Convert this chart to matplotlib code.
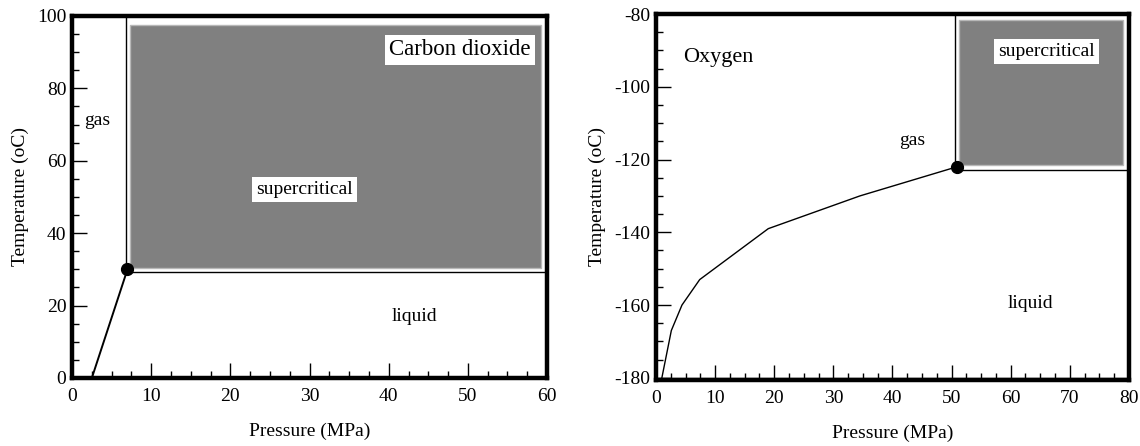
import numpy as np
import matplotlib
matplotlib.use('Agg')
import matplotlib.pyplot as plt
from matplotlib.patches import Rectangle
from matplotlib.ticker import MultipleLocator

plt.rcParams['font.family'] = ['Liberation Serif', 'DejaVu Serif']
plt.rcParams['axes.unicode_minus'] = False

# carbon dioxide panel
co2_line_p = [2.5, 7.0]
co2_line_t = [0, 30]
co2_crit = (7.0, 30)
co2_super_p = (7.3, 59.2)
co2_super_t = (30.4, 97.5)
co2_vert_p = 6.8
co2_horiz_t = 29.3

# oxygen panel
o2_curve_p = [1.0, 2.6, 4.4, 7.4, 19.0, 34.5, 50.9]
o2_curve_t = [-180, -167, -160, -153, -139, -130, -122]
o2_crit = (50.9, -122)
o2_super_p = (51.3, 79.0)
o2_super_t = (-121.5, -81.6)
o2_vert_p = 50.6
o2_horiz_t = -122.9

fig = plt.figure(figsize=(11.4, 4.46), dpi=100)
ax1 = fig.add_axes([0.0632, 0.1525, 0.4167, 0.8117])
ax2 = fig.add_axes([0.5754, 0.148, 0.4149, 0.8206])

gray = '#808080'
bbox = dict(facecolor='white', edgecolor='none', pad=3)


def style(ax, xmaj, xmin, ymaj, ymin):
    for s in ax.spines.values():
        s.set_linewidth(3.2)
    ax.xaxis.set_major_locator(MultipleLocator(xmaj))
    ax.xaxis.set_minor_locator(MultipleLocator(xmin))
    ax.yaxis.set_major_locator(MultipleLocator(ymaj))
    ax.yaxis.set_minor_locator(MultipleLocator(ymin))
    ax.tick_params(which='both', direction='in', top=False, right=False, width=1)
    ax.tick_params(which='major', length=11, labelsize=14)
    ax.tick_params(which='minor', length=5)
    ax.tick_params(axis='x', which='major', pad=7)
    ax.tick_params(axis='y', which='major', pad=4)
    ax.set_xlabel('Pressure (MPa)', fontsize=14, labelpad=13)
    ax.set_ylabel('Temperature (oC)', fontsize=14, labelpad=6)


# --- CO2 ---
ax1.set_xlim(0, 60)
ax1.set_ylim(0, 100)
ax1.add_patch(Rectangle((co2_super_p[0], co2_super_t[0]),
                        co2_super_p[1] - co2_super_p[0],
                        co2_super_t[1] - co2_super_t[0],
                        facecolor=gray, edgecolor='#b8b8b8', lw=1))
ax1.plot([co2_vert_p, co2_vert_p], [co2_crit[1], 100], color='black', lw=1)
ax1.plot([co2_crit[0], 60], [co2_horiz_t, co2_horiz_t], color='black', lw=1)
ax1.plot(co2_line_p, co2_line_t, color='black', lw=1.4)
ax1.plot(*co2_crit, 'o', color='black', ms=8.5)
ax1.text(1.5, 71, 'gas', fontsize=14, va='center')
ax1.text(29.4, 52, 'supercritical', fontsize=14, ha='center', va='center', bbox=bbox)
ax1.text(43.2, 17, 'liquid', fontsize=14, ha='center', va='center')
ax1.text(49.0, 90.6, 'Carbon dioxide', fontsize=16.5, ha='center', va='center', bbox=bbox)
style(ax1, 10, 2.5, 20, 5)

# --- O2 ---
ax2.set_xlim(0, 80)
ax2.set_ylim(-180.6, -80)
ax2.add_patch(Rectangle((o2_super_p[0], o2_super_t[0]),
                        o2_super_p[1] - o2_super_p[0],
                        o2_super_t[1] - o2_super_t[0],
                        facecolor=gray, edgecolor='#b8b8b8', lw=1))
ax2.axhline(-180, color='black', lw=1)
ax2.plot([o2_vert_p, o2_vert_p], [o2_crit[1], -80], color='black', lw=1)
ax2.plot([o2_crit[0], 80], [o2_horiz_t, o2_horiz_t], color='black', lw=1)
ax2.plot(o2_curve_p, o2_curve_t, color='black', lw=1)
ax2.plot(*o2_crit, 'o', color='black', ms=8.5)
ax2.text(4.6, -92, 'Oxygen', fontsize=16, va='center')
ax2.text(43.3, -114.9, 'gas', fontsize=14, ha='center', va='center')
ax2.text(63.3, -159.5, 'liquid', fontsize=14, ha='center', va='center')
ax2.text(66.0, -90.4, 'supercritical', fontsize=14, ha='center', va='center', bbox=bbox)
style(ax2, 10, 2.5, 20, 5)

fig.savefig('out.png', dpi=100)
